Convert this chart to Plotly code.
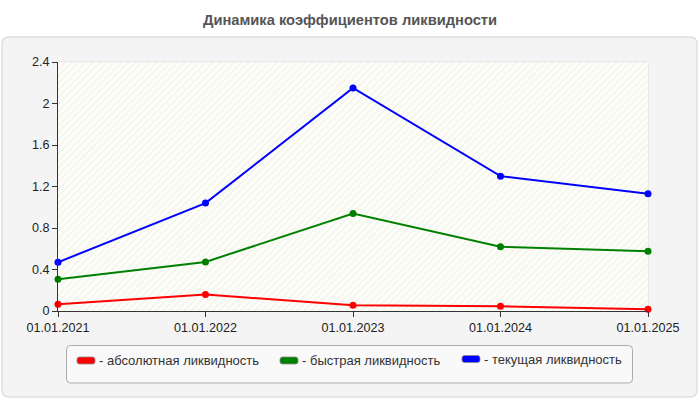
import plotly.graph_objects as go

dates = ["01.01.2021", "01.01.2022", "01.01.2023", "01.01.2024", "01.01.2025"]
absolute_liq = [0.065, 0.16, 0.055, 0.046, 0.016]
quick_liq = [0.305, 0.473, 0.94, 0.62, 0.575]
current_liq = [0.47, 1.04, 2.15, 1.30, 1.13]
series_names = ["- абсолютная ликвидность", "- быстрая ликвидность", "- текущая ликвидность"]
series_colors = ["#ff0000", "#008000", "#0000ff"]
y_ticks = [0, 0.4, 0.8, 1.2, 1.6, 2, 2.4]
y_tick_labels = ["0", "0.4", "0.8", "1.2", "1.6", "2", "2.4"]
title_text = "Динамика коэффициентов ликвидности"

W, H = 700, 400
ML, MR, MT, MB = 58, 52, 62, 89
PW, PH = W - ML - MR, H - MT - MB


def px(x):
    return (x - ML) / PW


def py(y):
    return (H - MB - y) / PH


def rounded_rect(x0, y0, x1, y1, r):
    pts = [
        f"M {px(x0 + r)},{py(y0)}",
        f"L {px(x1 - r)},{py(y0)}",
        f"Q {px(x1)},{py(y0)} {px(x1)},{py(y0 + r)}",
        f"L {px(x1)},{py(y1 - r)}",
        f"Q {px(x1)},{py(y1)} {px(x1 - r)},{py(y1)}",
        f"L {px(x0 + r)},{py(y1)}",
        f"Q {px(x0)},{py(y1)} {px(x0)},{py(y1 - r)}",
        f"L {px(x0)},{py(y0 + r)}",
        f"Q {px(x0)},{py(y0)} {px(x0 + r)},{py(y0)}",
        "Z",
    ]
    return " ".join(pts)


fig = go.Figure()

# hatched plot background
fig.add_trace(go.Scatter(
    x=[dates[0], dates[-1], dates[-1], dates[0], dates[0]],
    y=[y_ticks[0], y_ticks[0], y_ticks[-1], y_ticks[-1], y_ticks[0]],
    mode="none", fill="toself", fillcolor="rgba(0,0,0,0)",
    fillpattern=dict(shape="/", fgcolor="#e6e6e3", bgcolor="#fdfdf7", size=5, solidity=0.25),
    hoverinfo="skip", showlegend=False,
))

for vals, name, color in zip([absolute_liq, quick_liq, current_liq], series_names, series_colors):
    fig.add_trace(go.Scatter(
        x=dates, y=vals, name=name, mode="lines+markers",
        line=dict(color=color, width=2),
        marker=dict(color=color, size=7),
        showlegend=False, cliponaxis=False,
    ))

shapes = [
    dict(type="path", xref="paper", yref="paper", path=rounded_rect(2, 37, 697, 397, 7),
         fillcolor="#f4f4f4", line=dict(color="#dedede", width=1.5), layer="below"),
    dict(type="path", xref="paper", yref="paper", path=rounded_rect(66.5, 345.5, 632.5, 383, 4),
         fillcolor="#f9f9f9", line=dict(color="#aaaaaa", width=1), layer="below"),
    dict(type="rect", xref="paper", yref="paper", x0=0, x1=1, y0=0, y1=1,
         line=dict(color="#dddddd", width=1), layer="below"),
]

annotations = []
legend_x = [77, 280, 462]
legend_y = [360.5, 360.5, 359]
for lx, ly, name, color in zip(legend_x, legend_y, series_names, series_colors):
    shapes.append(dict(type="path", xref="paper", yref="paper",
                       path=rounded_rect(lx, ly - 3.5, lx + 18, ly + 3.5, 2.5),
                       fillcolor=color, line=dict(color="#888888", width=0.8)))
    annotations.append(dict(xref="paper", yref="paper", x=px(lx + 20), y=py(ly),
                            xanchor="left", yanchor="middle", showarrow=False, text=name,
                            font=dict(family="Liberation Sans, Arial", size=13, color="#333333")))

fig.update_layout(
    width=W, height=H,
    margin=dict(l=ML, r=MR, t=MT, b=MB),
    paper_bgcolor="white", plot_bgcolor="#fdfdf7",
    title=dict(text=f"<b>{title_text}</b>", x=0.5, xanchor="center", y=1 - 20 / H, yanchor="middle",
               font=dict(family="Liberation Sans, Arial", size=14.7, color="#555555")),
    font=dict(family="Liberation Sans, Arial", size=12.6, color="#222222"),
    shapes=shapes, annotations=annotations,
    showlegend=False,
    xaxis=dict(type="category", categoryorder="array", categoryarray=dates,
               range=[0, len(dates) - 1], showgrid=True,
               gridcolor="#dddddd", griddash="dash", gridwidth=1,
               showline=True, linecolor="#333333", linewidth=1,
               ticks="outside", ticklen=5, tickcolor="#333333", zeroline=False,
               tickfont=dict(size=12.6, color="#222222")),
    yaxis=dict(range=[y_ticks[0], y_ticks[-1]], tickvals=y_ticks, ticktext=y_tick_labels,
               showgrid=True, gridcolor="#dddddd", griddash="dash", gridwidth=1,
               showline=True, linecolor="#333333", linewidth=1,
               ticks="outside", ticklen=5, tickcolor="#333333", zeroline=False,
               tickfont=dict(size=12.6, color="#222222")),
)

fig.write_html("out.html", config={"displayModeBar": False},
               post_script="document.body.style.margin='0';")
